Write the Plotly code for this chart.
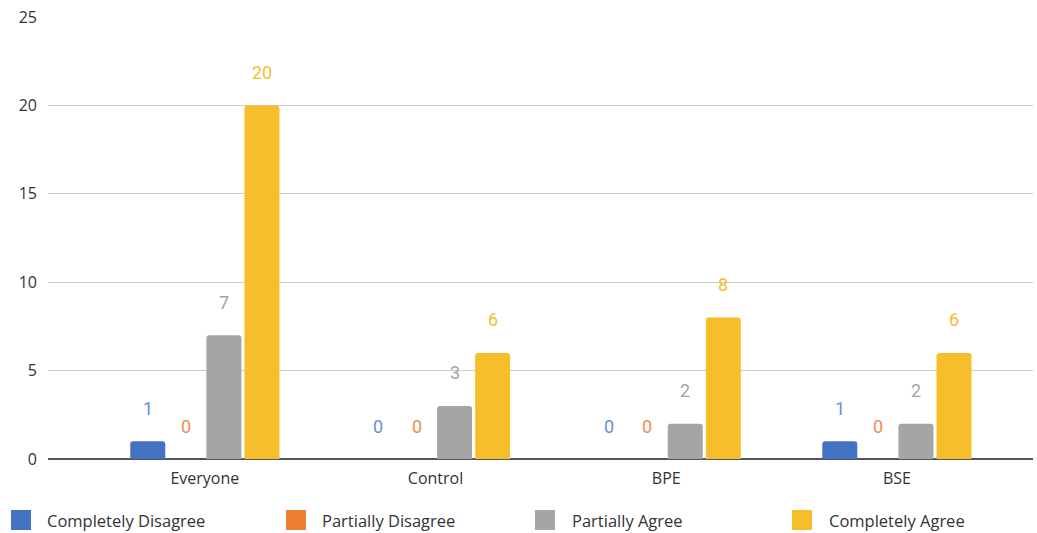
import plotly.graph_objects as go

groups = ["Everyone", "Control", "BPE", "BSE"]
completely_disagree = [1, 0, 0, 1]
partially_disagree = [0, 0, 0, 0]
partially_agree = [7, 3, 2, 2]
completely_agree = [20, 6, 8, 6]

series = [
    ("Completely Disagree", completely_disagree, "#4472C4", "#6A8FD4"),
    ("Partially Disagree", partially_disagree, "#ED7D31", "#EF8C4E"),
    ("Partially Agree", partially_agree, "#A5A5A5", "#A5A5A5"),
    ("Completely Agree", completely_agree, "#F6BE2A", "#F6BE2A"),
]

W, H = 1037, 533
ML, MR, MT, MB = 48, 4, 17, 74
PW, PH = W - ML - MR, H - MT - MB

BARGAP = 0.34
slot = (1 - BARGAP) / len(series)

# legend swatch / label pixel positions along the bottom row
legend_swatch_x = [11, 286, 535, 792]
legend_text_x = [45, 320, 570, 827]
legend_y = 520


def px_to_paper_x(px):
    return (px - ML) / PW


def px_to_paper_y(py):
    return (H - MB - py) / PH


fig = go.Figure()
annotations = []
shapes = []
for k, (name, vals, color, label_color) in enumerate(series):
    fig.add_trace(go.Bar(
        name=name, x=groups, y=vals, showlegend=False,
        marker=dict(color=color, line=dict(width=0)),
    ))
    offset = -(1 - BARGAP) / 2 + slot * (k + 0.5)
    for i, v in enumerate(vals):
        annotations.append(dict(
            x=i + offset, y=v, xref="x", yref="y", text=str(v),
            showarrow=False, yshift=33,
            font=dict(family="Roboto", size=18, color=label_color),
        ))
    # legend row
    sx = legend_swatch_x[k]
    shapes.append(dict(
        type="rect", xref="paper", yref="paper",
        x0=px_to_paper_x(sx), x1=px_to_paper_x(sx + 20),
        y0=px_to_paper_y(legend_y + 10), y1=px_to_paper_y(legend_y - 10),
        fillcolor=color, line=dict(width=0), layer="above",
    ))
    annotations.append(dict(
        x=px_to_paper_x(legend_text_x[k]), y=px_to_paper_y(legend_y),
        xref="paper", yref="paper", xanchor="left", yanchor="middle",
        text=name, showarrow=False,
        font=dict(family="Open Sans", size=16.5, color="#333333"),
    ))

fig.update_layout(
    width=W, height=H,
    margin=dict(l=ML, r=MR, t=MT, b=MB, autoexpand=False),
    paper_bgcolor="white", plot_bgcolor="white",
    barmode="group", bargap=BARGAP, bargroupgap=0.08,
    barcornerradius=3,
    showlegend=False,
    font=dict(family="Open Sans", size=16, color="#333333"),
    annotations=annotations,
    shapes=shapes,
    xaxis=dict(
        type="category", range=[-0.68, 3.59],
        showgrid=False, showline=False, ticks="", ticklabelstandoff=8,
        tickfont=dict(family="Open Sans", size=16, color="#333333"),
    ),
    yaxis=dict(
        range=[0, 25], dtick=5, showgrid=True, gridcolor="#cccccc", gridwidth=1,
        zeroline=True, zerolinecolor="#555555", zerolinewidth=1.5,
        showline=False, ticks="", ticklabelstandoff=10,
        tickfont=dict(family="Open Sans", size=16, color="#333333"),
    ),
)

fig.write_html("out.html")
